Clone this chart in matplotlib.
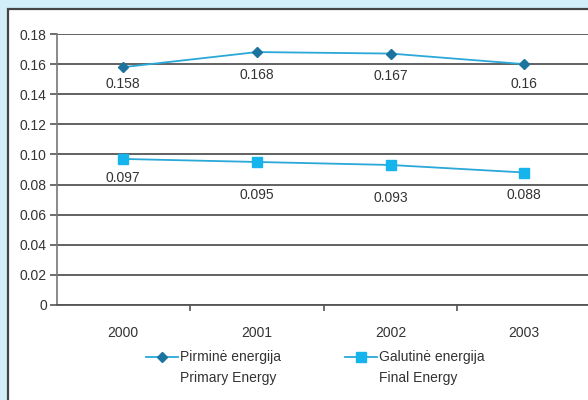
import matplotlib
matplotlib.use("Agg")
import matplotlib.pyplot as plt
from matplotlib.patches import Rectangle
from matplotlib.lines import Line2D

years = ["2000", "2001", "2002", "2003"]
primary = [0.158, 0.168, 0.167, 0.16]
final = [0.097, 0.095, 0.093, 0.088]
primary_labels = ["0.158", "0.168", "0.167", "0.16"]
final_labels = ["0.097", "0.095", "0.093", "0.088"]
yticks = [0, 0.02, 0.04, 0.06, 0.08, 0.10, 0.12, 0.14, 0.16, 0.18]
ytick_labels = ["0", "0.02", "0.04", "0.06", "0.08", "0.10", "0.12", "0.14", "0.16", "0.18"]

# label offsets (points, downward) as placed in the reference
primary_offsets = [7.0, 11.2, 11.2, 9.0]
final_offsets = [9.0, 18.4, 18.4, 11.2]

W, H = 588, 400
FS = 10
TXT = "#333333"
fig = plt.figure(figsize=(W / 100, H / 100), dpi=100)
fig.patch.set_facecolor("#d2eef9")
plt.rcParams['font.family'] = ['Liberation Sans', 'DejaVu Sans']

panel = Rectangle((8 / W, -0.1), 1.2, 1 - 9 / H + 0.1, transform=fig.transFigure,
                  facecolor="white", edgecolor="#444444", linewidth=1.6, zorder=0)
fig.add_artist(panel)

left = 56.5 / W
right = 591 / W
bottom = 1 - 305 / H
top = 1 - 34 / H
ax = fig.add_axes([left, bottom, right - left, top - bottom])
ax.set_facecolor("none")

x = list(range(len(years)))
ax.plot(x, primary, color="#2aa8d8", linewidth=1.3, marker="D", markersize=5.5,
        markerfacecolor="#1b73a0", markeredgecolor="#1b73a0", zorder=5)
ax.plot(x, final, color="#2aa8d8", linewidth=1.3, marker="s", markersize=7.5,
        markerfacecolor="#16b4ec", markeredgecolor="#16b4ec", zorder=5)

for xi, v, lab, off in zip(x, primary, primary_labels, primary_offsets):
    ax.annotate(lab, (xi, v), xytext=(0, -off), textcoords="offset points",
                ha="center", va="top", fontsize=FS, color=TXT)
for xi, v, lab, off in zip(x, final, final_labels, final_offsets):
    ax.annotate(lab, (xi, v), xytext=(0, -off), textcoords="offset points",
                ha="center", va="top", fontsize=FS, color=TXT)

ax.set_xlim(-0.5, 3.5)
ax.set_ylim(0, 0.18)
ax.set_yticks(yticks)
ax.set_yticklabels(ytick_labels, fontsize=FS, color=TXT)
ax.set_xticks(x)
ax.set_xticklabels(years, fontsize=FS, color=TXT)
ax.tick_params(axis="x", length=0, pad=15)
ax.set_xticks([0.5, 1.5, 2.5], minor=True)
ax.tick_params(axis="x", which="minor", length=4, color="#555555", width=1.2, direction="out")
ax.tick_params(axis="y", length=5, color="#555555", width=1.2, pad=2)
ax.yaxis.grid(True, color="#555555", linewidth=1.3)
ax.set_axisbelow(True)
for s in ["top", "right"]:
    ax.spines[s].set_visible(False)
ax.spines["left"].set_color("#777777")
ax.spines["left"].set_linewidth(1.2)
ax.spines["bottom"].set_color("#555555")
ax.spines["bottom"].set_linewidth(1.3)

# legend
def legend_entry(x0, marker, mfc, ms, line1, line2):
    y0 = 1 - 357 / H
    fig.add_artist(Line2D([x0 / W, (x0 + 32) / W], [y0, y0], transform=fig.transFigure,
                          color="#2aa8d8", linewidth=1.3))
    fig.add_artist(Line2D([(x0 + 16) / W], [y0], transform=fig.transFigure,
                          marker=marker, markersize=ms, markerfacecolor=mfc,
                          markeredgecolor=mfc, linestyle="none"))
    fig.text((x0 + 34) / W, y0, line1, fontsize=FS, color=TXT, va="center", ha="left")
    fig.text((x0 + 34) / W, 1 - 378 / H, line2, fontsize=FS, color=TXT, va="center", ha="left")

legend_entry(146, "D", "#1b73a0", 5.5, "Pirminė energija", "Primary Energy")
legend_entry(345, "s", "#16b4ec", 7, "Galutinė energija", "Final Energy")

fig.savefig("out.png", dpi=100, facecolor=fig.get_facecolor())
